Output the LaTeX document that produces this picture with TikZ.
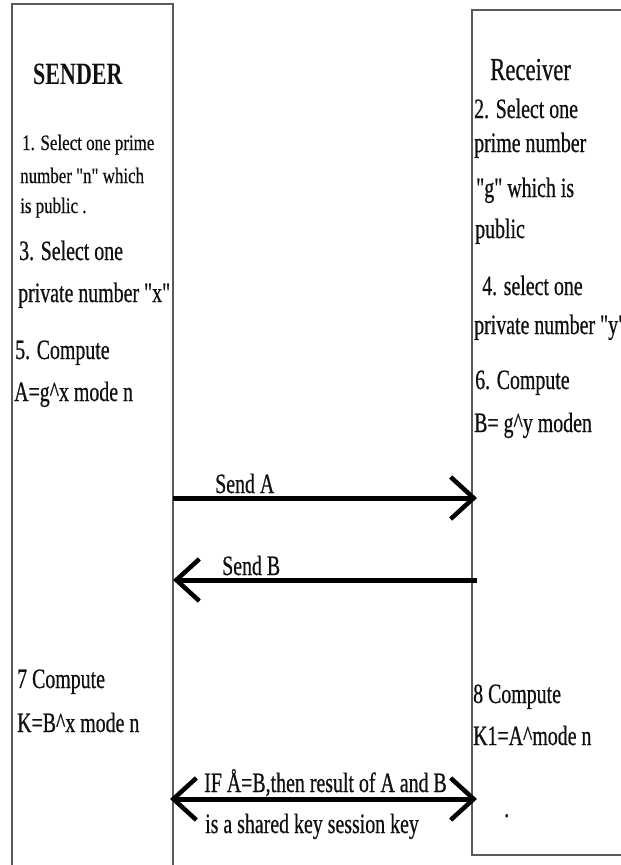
\documentclass[tikz,border=0pt]{standalone}
\usepackage{fontspec}
\setmainfont{Liberation Serif}
\newfontfamily\tnr[FakeStretch=0.71,FakeBold=0.6]{Liberation Serif}
\newfontfamily\tnrs[FakeStretch=0.77,FakeBold=0.5]{Liberation Serif}
\newfontfamily\tnrh[FakeStretch=0.71]{Liberation Serif}
\usetikzlibrary{arrows.meta}
\definecolor{txt}{HTML}{101010}
\definecolor{boxc}{HTML}{5A5A5A}
\tikzset{
  lt/.style={anchor=base west, inner sep=0pt, text=txt, font=\tnr\fontsize{28}{32}\selectfont},
  st/.style={anchor=base west, inner sep=0pt, text=txt, font=\tnrs\fontsize{22}{26}\selectfont},
  ht/.style={anchor=base west, inner sep=0pt, text=txt, font=\tnrh\bfseries\fontsize{31}{34}\selectfont},
  rt/.style={anchor=base west, inner sep=0pt, text=txt, font=\tnr\fontsize{32}{36}\selectfont},
  boxline/.style={draw=boxc, line width=1.6pt},
  msg/.style={line width=5pt, black},
  mybarb/.tip={Straight Barb[length=23pt, width=42pt, line width=4.5pt]}
}
\begin{document}
\begin{tikzpicture}[x=1pt, y=-1pt]
\useasboundingbox (0,0) rectangle (621,865);
% boxes
\draw[boxline] (12,875) -- (12,4) -- (173,4) -- (173,875);
\draw[boxline] (640,855) -- (472,855) -- (472,10) -- (640,10);
% sender column
\node[ht] (sender) at (33,84) {SENDER};
\node[st] (s1a) at (22,150) {1. Select one prime};
\node[st] (s1b) at (20,183) {number "n" which};
\node[st] (s1c) at (20,213) {is public .};
\node[lt] (s3a) at (19,260) {3. Select one};
\node[lt] (s3b) at (18,302) {private number "x"};
\node[lt] (s5a) at (15,359) {5. Compute};
\node[lt] (s5b) at (14,401) {A=g\textasciicircum x mode n};
\node[lt] (s7a) at (17,688) {7 Compute};
\node[lt] (s7b) at (17,732) {K=B\textasciicircum x mode n};
% receiver column
\node[rt] (recv) at (490,80) {Receiver};
\node[lt] (r2a) at (474,118) {2. Select one};
\node[lt] (r2b) at (474,152) {prime number};
\node[lt] (r2c) at (476,197) {"g" which is};
\node[lt] (r2d) at (475,238) {public};
\node[lt] (r4a) at (482,295) {4. select one};
\node[lt] (r4b) at (474,334) {private number "y"};
\node[lt] (r6a) at (475,389) {6. Compute};
\node[lt] (r6b) at (474,432) {B= g\textasciicircum y moden};
\node[lt] (r8a) at (473,703) {8 Compute};
\node[lt] (r8b) at (473,745) {K1=A\textasciicircum mode n};
\node[lt] (dot) at (504,817) {.};
% messages
\coordinate (aL) at (173,498);
\coordinate (aR) at (477,498);
\coordinate (bL) at (173,580);
\coordinate (bR) at (477,580);
\coordinate (kL) at (170,799);
\coordinate (kR) at (477,799);
\draw[msg, -{mybarb}] (aL) -- (aR);
\draw[msg, -{mybarb}] (bR) -- (bL);
\draw[msg, {mybarb}-{mybarb}] (kL) -- (kR);
\node[lt] (sendA) at (215,493) {Send A};
\node[lt] (sendB) at (222,575) {Send B};
\node[lt] (ifab) at (204,792) {IF Å=B,then result of A and B};
\node[lt] (shared) at (205,833) {is a shared key session key};
\end{tikzpicture}
\end{document}
